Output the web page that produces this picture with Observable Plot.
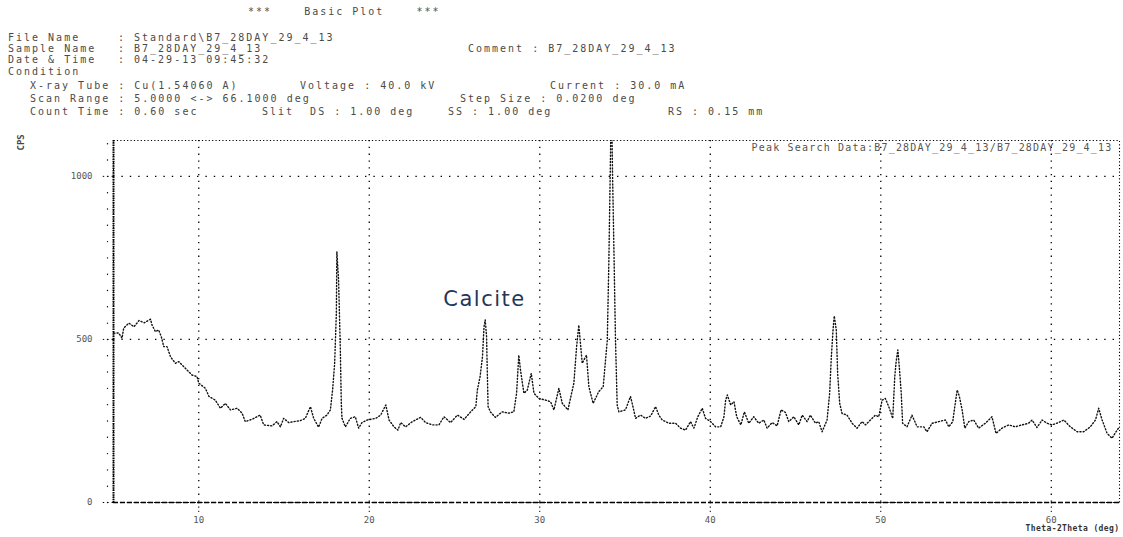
<!DOCTYPE html>
<html><head><meta charset="utf-8">
<script src="https://cdn.jsdelivr.net/npm/d3@7"></script>
<script src="https://cdn.jsdelivr.net/npm/@observablehq/plot@0.6"></script>
<style>
body{margin:0;background:#fff;}
#wrap{position:relative;width:1123px;height:537px;overflow:hidden;background:#fff;}
#hdr{position:absolute;left:0;top:0;width:1123px;height:125px;font-family:"DejaVu Sans Mono",monospace;font-size:10px;letter-spacing:2px;color:#4a4a4a;}
#hdr span{position:absolute;white-space:pre;line-height:10px;}
#chart{position:absolute;left:0;top:125px;}
</style></head>
<body><div id="wrap"><div id="hdr"></div><div id="chart"></div></div>
<script>
// ---- data ----
const twoTheta = [5.02,5.3,5.5,5.6,5.9,6.2,6.5,6.8,7.17,7.26,7.46,7.65,7.8,7.95,8.14,8.34,8.63,8.83,9.02,9.31,9.6,9.9,10.0,10.39,10.6,10.97,11.27,11.56,11.86,12.25,12.54,12.73,13.12,13.6,13.81,14.3,14.59,14.79,14.98,15.28,15.57,15.96,16.25,16.55,16.74,17.03,17.23,17.52,17.72,17.85,17.97,18.07,18.1,18.2,18.3,18.36,18.4,18.6,18.89,19.18,19.38,19.57,19.89,20.38,20.67,20.97,21.16,21.45,21.68,21.84,22.13,22.53,23.01,23.31,23.7,24.09,24.38,24.77,25.17,25.56,25.95,26.25,26.34,26.5,26.64,26.73,26.8,26.88,26.92,26.97,27.1,27.4,27.79,28.18,28.48,28.64,28.77,28.87,29.07,29.27,29.5,29.66,29.95,30.34,30.63,30.83,31.12,31.32,31.65,32.0,32.16,32.29,32.49,32.74,32.88,33.13,33.46,33.72,33.96,34.05,34.15,34.2,34.27,34.34,34.44,34.54,34.64,35.03,35.32,35.42,35.62,35.91,36.2,36.5,36.79,36.98,37.18,37.57,37.96,38.25,38.55,38.84,39.04,39.27,39.53,39.72,40.02,40.31,40.61,40.8,40.9,41.0,41.2,41.39,41.55,41.79,42.0,42.26,42.55,42.84,43.14,43.33,43.63,43.92,44.15,44.41,44.6,44.9,45.19,45.39,45.68,45.87,46.17,46.36,46.56,46.85,47.0,47.1,47.2,47.27,47.39,47.47,47.59,47.73,48.02,48.32,48.61,48.9,49.1,49.39,49.68,49.88,50.08,50.27,50.5,50.7,50.82,50.9,51.0,51.1,51.2,51.28,51.54,51.83,52.13,52.52,52.71,53.01,53.4,53.79,53.99,54.22,54.34,54.48,54.61,54.77,54.93,55.16,55.45,55.74,56.13,56.52,56.76,57.11,57.5,57.89,58.28,58.67,58.87,59.16,59.46,59.75,60.04,60.43,60.73,61.12,61.51,61.9,62.29,62.59,62.78,62.98,63.27,63.56,63.86,64.0];
const cps = [519,520,504,535,550,539,558,551,562,544,524,529,509,478,478,447,427,432,422,406,391,386,366,350,325,314,289,304,284,289,274,248,255,268,238,235,248,232,258,245,248,251,258,294,258,231,258,268,284,345,427,580,769,682,478,304,258,232,258,263,228,245,253,258,268,299,253,232,222,245,232,248,261,245,238,238,263,245,268,255,278,294,345,386,447,539,560,509,406,294,278,261,278,274,278,335,452,406,335,345,396,335,319,314,309,284,350,304,284,366,478,544,427,452,355,304,340,355,498,734,1071,1250,1000,800,500,299,278,284,325,304,258,268,258,265,294,268,253,243,243,228,222,248,228,263,289,258,248,232,232,263,314,330,299,309,263,238,278,243,263,243,253,228,245,235,284,276,248,263,238,268,248,268,243,248,217,253,335,447,529,572,529,396,304,273,268,243,228,248,238,253,268,263,314,319,289,258,386,432,468,406,335,243,232,268,232,232,217,243,248,253,232,248,294,345,325,284,228,248,253,228,243,263,212,228,238,232,238,243,253,230,253,243,238,245,253,232,217,217,232,253,289,253,212,197,222,232];
const xTicks = [10,20,30,40,50,60];
const yTicks = [0,500,1000];
const yMinor = d3.range(0,1101,50);
const annotation = [{t:26.76, c:624, label:"Calcite"}];
const legendText = "Peak Search Data:B7_28DAY_29_4_13/B7_28DAY_29_4_13";
const xLabel = "Theta-2Theta (deg)";
const yLabel = "CPS";
const headerTitle = "***    Basic Plot    ***";
const headerTexts = [
  "File Name", ": Standard\\B7_28DAY_29_4_13",
  "Sample Name", ": B7_28DAY_29_4_13", "Comment : B7_28DAY_29_4_13",
  "Date & Time", ": 04-29-13 09:45:32",
  "Condition",
  "X-ray Tube : Cu(1.54060 A)", "Voltage : 40.0 kV", "Current : 30.0 mA",
  "Scan Range : 5.0000 <-> 66.1000 deg", "Step Size : 0.0200 deg",
  "Count Time : 0.60 sec", "Slit  DS : 1.00 deg", "SS : 1.00 deg", "RS : 0.15 mm"
];
// ---- layout for header (positions only) ----
const rows = [38,49,60,72,86,99,112];
const hdrLayout = [
  [8,0],[118,0],
  [8,1],[118,1],[468,1],
  [8,2],[118,2],
  [8,3],
  [30,4],[300,4],[550,4],
  [30,5],[460,5],
  [30,6],[262,6],[448,6],[668,6]
];
const hdr = document.getElementById("hdr");
function addSpan(txt, x, y){ const s=document.createElement("span"); s.textContent=txt; s.style.left=x+"px"; s.style.top=(y-5)+"px"; hdr.appendChild(s); }
addSpan(headerTitle, 248, 12);
headerTexts.forEach((t,i)=>addSpan(t, hdrLayout[i][0], rows[hdrLayout[i][1]]));

const data = twoTheta.map((t,i)=>({t, c:cps[i]}));
const mono = "DejaVu Sans Mono, monospace";
const chart = Plot.plot({
  width:1123, height:412,
  marginLeft:113, marginRight:4, marginTop:15, marginBottom:35,
  x:{domain:[5,64]}, y:{domain:[0,1110]},
  style:{background:"#fff", color:"#000"},
  marks:[
    Plot.ruleX(xTicks, {stroke:"#000", strokeWidth:1.3, strokeDasharray:"1.3,5.5"}),
    Plot.ruleY([500,1000], {stroke:"#000", strokeWidth:1.3, strokeDasharray:"1.4,7"}),
    Plot.frame({stroke:"#000", strokeWidth:1.1, strokeDasharray:"1.2,2.2"}),
    Plot.ruleX([5], {stroke:"#000", strokeWidth:2, strokeDasharray:"1.5,0.8"}),
    Plot.ruleY([0], {stroke:"#000", strokeWidth:1.4, strokeDasharray:"5,2"}),
    Plot.axisY(yTicks, {tickSize:13, tickPadding:8, tickFormat:d=>String(d), strokeDasharray:"1.4,3", fontSize:9, fontFamily:mono, fill:"#555", label:null}),
    Plot.dot(yMinor, {x:()=>5, y:d=>d, r:0.7, fill:"#000", stroke:null, dx:-6}),
    Plot.axisX(xTicks, {tickSize:10, tickPadding:4, tickFormat:d=>String(d), strokeDasharray:"1.4,3", fontSize:9, fontFamily:mono, fill:"#555", label:null}),
    Plot.line(data, {x:"t", y:"c", stroke:"#111", strokeWidth:1.4, strokeDasharray:"1.1,2.1", clip:true}),
    Plot.text(annotation, {x:"t", y:"c", text:"label", fontSize:21, fontFamily:"DejaVu Sans, sans-serif", fill:"#24365a"}),
    Plot.text([legendText], {frameAnchor:"top-right", dx:-7, dy:3, textAnchor:"end", fontSize:10, fontFamily:mono, fill:"#555"}),
    Plot.text([xLabel], {frameAnchor:"bottom-right", dy:28, textAnchor:"end", fontSize:8, fontFamily:mono, fontWeight:"bold", fill:"#333"}),
    Plot.text([yLabel], {frameAnchor:"top-left", dx:-96, dy:10, rotate:-90, fontSize:9, fontFamily:mono, fontWeight:"bold", fill:"#444"})
  ]
});
// letter spacing tweaks for specific labels
chart.querySelectorAll("text").forEach(el=>{
  const s = el.textContent;
  if (s === legendText) el.style.letterSpacing = "1.2px";
  if (s === "Calcite") el.style.letterSpacing = "1.5px";
  if (s === xLabel) el.style.letterSpacing = "0.4px";
});
document.getElementById("chart").appendChild(chart);
</script>
</body></html>
